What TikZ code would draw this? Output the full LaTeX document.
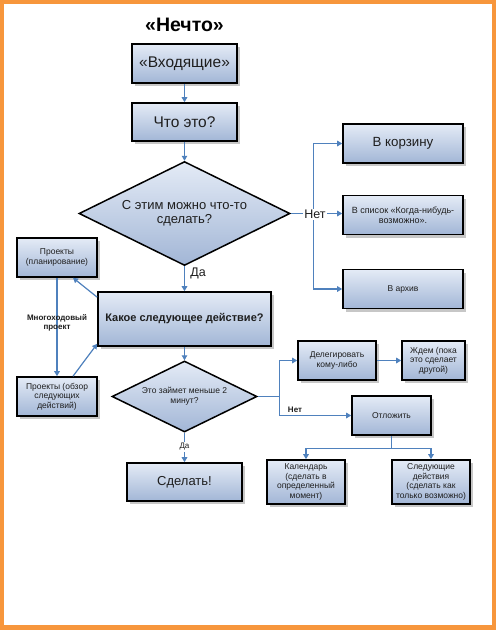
\documentclass[tikz,border=0pt]{standalone}
\usepackage{fontspec}
\setmainfont{Liberation Sans}
\usetikzlibrary{shapes.geometric,arrows.meta,shadows}
\definecolor{frameorange}{HTML}{F7963C}
\definecolor{arrowblue}{HTML}{4F81BD}
\definecolor{boxlight}{HTML}{E4EBF6}
\definecolor{boxdark}{HTML}{A2B6D6}
\definecolor{txt}{HTML}{1E1E1E}
\begin{document}
\begin{tikzpicture}[x=1pt,y=-1pt,
  box/.style={draw=black, line width=1.6pt, top color=boxlight, bottom color=boxdark,
    drop shadow={shadow xshift=3pt, shadow yshift=-3pt, opacity=0.22, fill=black},
    inner sep=1pt, align=center, text=txt},
  dia/.style={diamond, aspect=2, draw=black, line width=1.5pt, top color=boxlight, bottom color=boxdark,
    inner sep=0pt, align=center, text=txt},
  arr/.style={draw=arrowblue, line width=1.2pt, -{Triangle[length=5pt,width=5.5pt]}},
  ln/.style={draw=arrowblue, line width=1.2pt},
  fbig/.style={font=\fontsize{15.5}{18}\selectfont},
  fmid/.style={font=\fontsize{12.5}{14.5}\selectfont},
  fsmall/.style={font=\fontsize{8.5}{9.6}\selectfont},
  lbl/.style={text=txt, inner sep=1pt},
]
\useasboundingbox (0,0) rectangle (496,630);
\fill[frameorange] (0,0) rectangle (496,630);
\fill[white] (4,3.5) rectangle (492,625);

% title
\node[lbl, font=\bfseries\fontsize{19.5}{22}\selectfont, text=black] (title) at (184.5,25) {«Нечто»};

% main column
\node[box, fbig, minimum width=105pt, minimum height=39pt] (inbox) at (184.5,63.5) {«Входящие»};
\node[box, fbig, minimum width=105pt, minimum height=38pt] (what) at (184.5,122) {Что это?};
\node[dia, font=\fontsize{13}{14.5}\selectfont, minimum width=211pt, minimum height=104pt] (d1) at (184.5,213.5) {С этим можно что-то\\сделать?};
\node[box, font=\bfseries\fontsize{11}{13}\selectfont, minimum width=173pt, minimum height=54pt] (action) at (184.5,319) {Какое следующее действие?};
\node[dia, fsmall, minimum width=145pt, minimum height=71pt] (d2) at (184.5,396.5) {Это займет меньше 2\\минут?};
\node[box, font=\fontsize{13}{15}\selectfont, minimum width=115pt, minimum height=38pt] (do) at (184.5,482) {Сделать!};

% right column (Нет)
\node[box, font=\fontsize{13.3}{15}\selectfont, minimum width=120pt, minimum height=39pt] (trash) at (403,143.5) {В корзину};
\node[box, font=\fontsize{9}{10.5}\selectfont, minimum width=120pt, minimum height=39pt] (someday) at (403,215) {В список «Когда-нибудь-\\возможно».};
\node[box, fsmall, minimum width=120pt, minimum height=39pt] (archive) at (403,289) {В архив};

% projects
\node[box, fsmall, minimum width=80pt, minimum height=39pt] (planning) at (57,257.5) {Проекты\\(планирование)};
\node[box, fsmall, minimum width=80pt, minimum height=39pt] (review) at (57,396.5) {Проекты (обзор\\следующих\\действий)};

% lower right
\node[box, fsmall, minimum width=78pt, minimum height=39pt] (delegate) at (337,360.5) {Делегировать\\кому-либо};
\node[box, fsmall, minimum width=63pt, minimum height=39pt] (wait) at (433.5,360.5) {Ждем (пока\\это сделает\\другой)};
\node[box, fsmall, minimum width=79pt, minimum height=39pt] (postpone) at (391.5,415.5) {Отложить};
\node[box, fsmall, minimum width=78pt, minimum height=44pt] (calendar) at (306,482) {Календарь\\(сделать в\\определенный\\момент)};
\node[box, fsmall, minimum width=78pt, minimum height=44pt] (next) at (431,482) {Следующие\\действия\\(сделать как\\только возможно)};

% connectors
\draw[arr] (inbox.south) -- (what.north);
\draw[arr] (what.south) -- (d1.north);
\draw[ln] (d1.east) -- ++(23,0) coordinate (j1);
\draw[arr] (j1) |- (trash.west);
\draw[arr] (j1) |- (archive.west);
\draw[arr] (d1.east) -- (d1.east -| someday.west);
\draw[arr] (d1.south) -- (action.north);
\draw[arr] ([yshift=-6pt]action.north west) -- ([xshift=16pt]planning.south);
\draw[arr] (planning.south) -- (review.north);
\draw[arr] ([xshift=16pt]review.north) -- ([yshift=3pt]action.south west);
\draw[arr] (action.south) -- (d2.north);
\draw[ln] (d2.east) -- ++(22,0) coordinate (j2);
\draw[arr] (j2) |- (delegate.west);
\draw[arr] (j2) |- (postpone.west);
\draw[arr] (delegate.east) -- (wait.west);
\draw[ln] (postpone.south) -- ++(0,13) coordinate (j3);
\draw[arr] (j3) -| (calendar.north);
\draw[arr] (j3) -| (next.north);
\draw[arr] (d2.south) -- (do.north);

% labels
\node[lbl, fmid, fill=white] (no1) at (315,214.5) {Нет};
\node[lbl, fmid] (yes1) at (198,273) {Да};
\node[lbl, align=center, font=\bfseries\fontsize{8}{9.5}\selectfont] (multi) at (57,323) {Многоходовый\\проект};
\node[lbl, font=\bfseries\fontsize{8}{9.5}\selectfont] (no2) at (295,409.5) {Нет};
\node[lbl, font=\fontsize{8}{9.5}\selectfont, fill=white] (yes2) at (184.5,447) {Да};
\end{tikzpicture}
\end{document}
